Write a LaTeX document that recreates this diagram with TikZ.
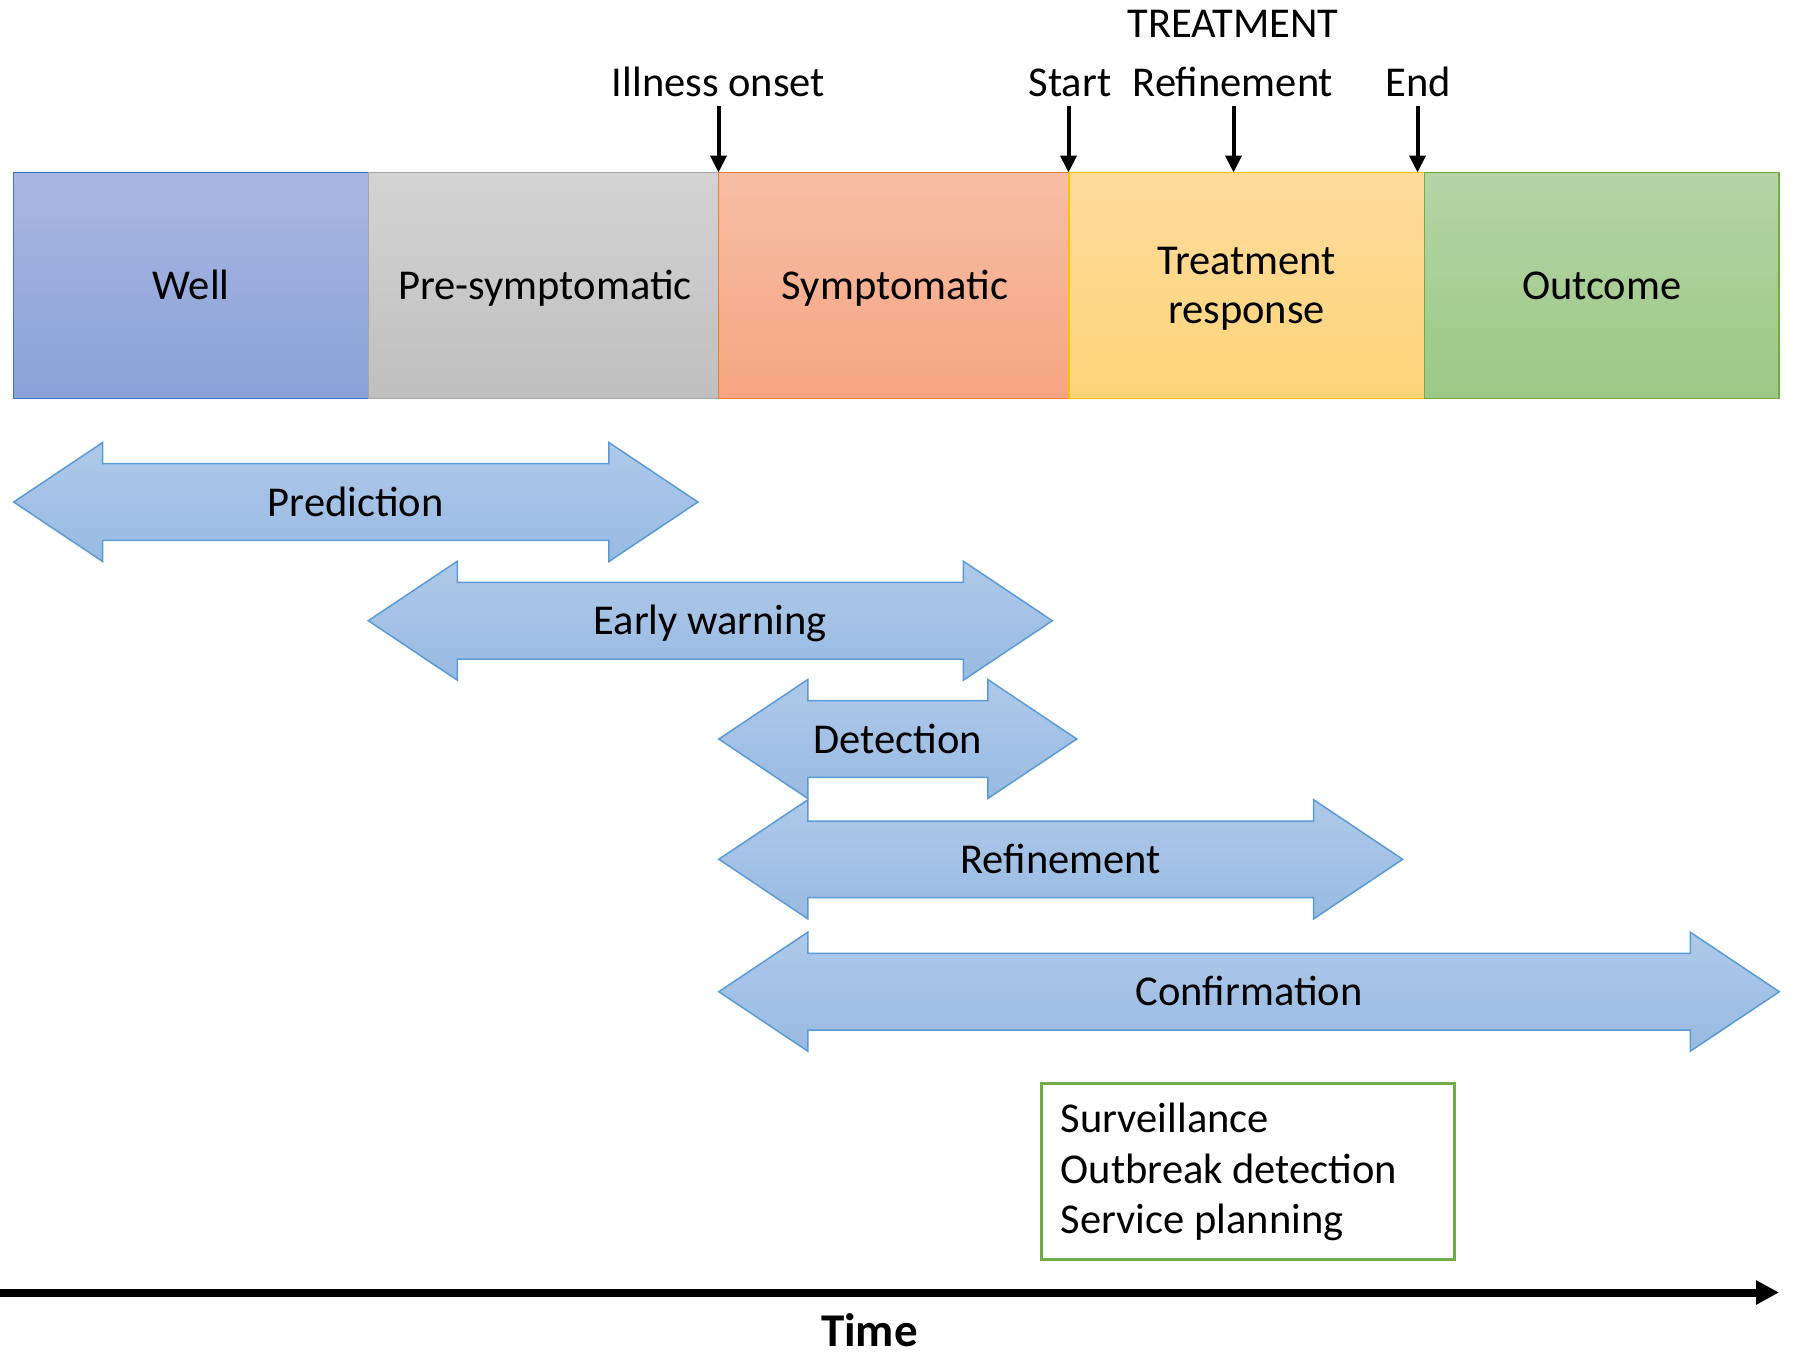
\documentclass[tikz,border=0pt]{standalone}
\usepackage{fontspec}
\setmainfont{Carlito}
\usetikzlibrary{arrows.meta}

% phase colours (top / bottom of the vertical gradient, outline)
\definecolor{wellT}{HTML}{A9B6E0}\definecolor{wellB}{HTML}{8AA2D8}\definecolor{wellD}{HTML}{4472C4}
\definecolor{preT}{HTML}{D3D3D3}\definecolor{preB}{HTML}{BFBFBF}\definecolor{preD}{HTML}{A5A5A5}
\definecolor{symT}{HTML}{F7BEA5}\definecolor{symB}{HTML}{F5A581}\definecolor{symD}{HTML}{ED7D31}
\definecolor{trtT}{HTML}{FFDB9C}\definecolor{trtB}{HTML}{FED479}\definecolor{trtD}{HTML}{FFC000}
\definecolor{outT}{HTML}{B4D4A6}\definecolor{outB}{HTML}{9DC885}\definecolor{outD}{HTML}{70AD47}
\definecolor{spanT}{HTML}{AEC9E9}\definecolor{spanB}{HTML}{99BAE2}\definecolor{spanD}{HTML}{5B9BD5}
\definecolor{boxD}{HTML}{70AD47}

\tikzset{
  txt/.style={inner sep=0pt, font=\fontsize{42.5}{50}\selectfont, text=black},
  phase/.style n args={3}{top color=#1, bottom color=#2, draw=#3, line width=1.5pt},
  spanfill/.style={top color=spanT, bottom color=spanB, draw=spanD, line width=1.5pt, line join=miter},
  marker/.style={line width=4pt, -{Triangle[length=17pt,width=16pt]}},
}

% double-headed span arrow: name, left tip x, right tip x, centre y, label
\newcommand\spanarrow[5]{%
  \path[spanfill] (#2,#4) -- (#2+89,#4-59.5) -- (#2+89,#4-38.3) -- (#3-89,#4-38.3)
    -- (#3-89,#4-59.5) -- (#3,#4) -- (#3-89,#4+59.5) -- (#3-89,#4+38.3)
    -- (#2+89,#4+38.3) -- (#2+89,#4+59.5) -- cycle;
  \node[txt, anchor=base] (#1) at ({(#2+#3)/2},#4+14) {#5};
}

\begin{document}
\begin{tikzpicture}[x=1pt, y=-1pt]
\useasboundingbox (0,0) rectangle (1794,1355);

% phase band
\path[phase={wellT}{wellB}{wellD}] (13.7,172.5) rectangle (368.4,398.5);
\path[phase={preT}{preB}{preD}] (368.4,172.5) rectangle (718.5,398.5);
\path[phase={symT}{symB}{symD}] (718.5,172.5) rectangle (1068.8,398.5);
\path[phase={trtT}{trtB}{trtD}] (1068.8,172.5) rectangle (1424.4,398.5);
\path[phase={outT}{outB}{outD}] (1424.4,172.5) rectangle (1779.1,398.5);

\node[txt, anchor=base] (well) at (191,299.3) {Well};
\node[txt, anchor=base] (pre) at (545,299.3) {Pre-symptomatic};
\node[txt, anchor=base] (sym) at (895,299.3) {Symptomatic};
\node[txt, anchor=base] (trt1) at (1246.6,274) {Treatment};
\node[txt, anchor=base] (trt2) at (1246.6,323.5) {response};
\node[txt, anchor=base] (out) at (1601.8,299.3) {Outcome};

% time markers above the band
\node[txt, anchor=base] (treatment) at (1233,37.7) {TREATMENT};
\node[txt, anchor=base] (onset) at (718.5,96.7) {Illness onset};
\node[txt, anchor=base] (start) at (1070,96.7) {Start};
\node[txt, anchor=base] (refine) at (1233,96.7) {Refinement};
\node[txt, anchor=base] (end) at (1418,96.7) {End};

\coordinate (onsetA) at (718.5,106);  \coordinate (onsetB) at (718.5,172.5);
\coordinate (startA) at (1068.5,106); \coordinate (startB) at (1068.5,172.5);
\coordinate (refA) at (1233.5,106);   \coordinate (refB) at (1233.5,172.5);
\coordinate (endA) at (1417.5,106);   \coordinate (endB) at (1417.5,172.5);
\draw[marker] (onsetA) -- (onsetB);
\draw[marker] (startA) -- (startB);
\draw[marker] (refA) -- (refB);
\draw[marker] (endA) -- (endB);

% spans of the tasks
\spanarrow{prediction}{13.7}{697.9}{502}{Prediction}
\spanarrow{early}{368.3}{1052.3}{620.7}{Early warning}
\spanarrow{detection}{718.8}{1076.8}{739}{Detection}
\spanarrow{refinement}{718.8}{1402.7}{859.3}{Refinement}
\spanarrow{confirmation}{718.8}{1779.3}{991.7}{Confirmation}

% population-level uses
\node[draw=boxD, line width=3.3pt, minimum width=413pt, minimum height=176pt,
      inner sep=0pt, anchor=north west] (uses) at (1040,1082) {};
\node[txt, anchor=base west] (use1) at (1060.6,1132.3) {Surveillance};
\node[txt, anchor=base west] (use2) at (1060.6,1183.3) {Outbreak detection};
\node[txt, anchor=base west] (use3) at (1060.6,1233.3) {Service planning};

% time axis
\coordinate (t0) at (0,1292.5);
\coordinate (t1) at (1779,1292.5);
\draw[line width=8pt, -{Triangle[length=23pt,width=23pt]}] (t0) -- (t1);
\node[txt, anchor=base, font=\fontsize{47}{54}\selectfont\bfseries] (time) at (869.5,1346) {Time};
\end{tikzpicture}
\end{document}
